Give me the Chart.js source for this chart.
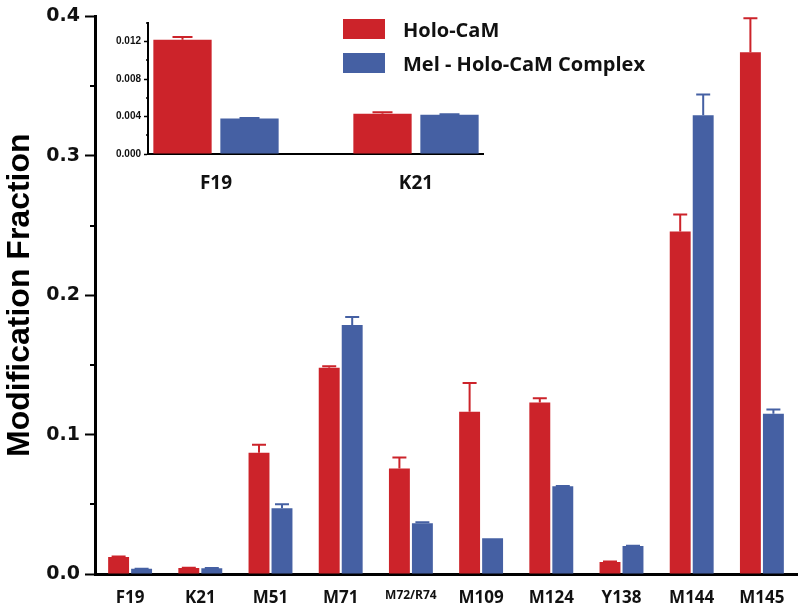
<!DOCTYPE html>
<html lang="en">
<head>
    <meta charset="UTF-8">
    <title>Modification Fraction</title>
    <script src="https://cdn.jsdelivr.net/npm/chart.js@4.4.0/dist/chart.umd.min.js"></script>
    <style>
        html, body { margin: 0; padding: 0; background: #fff; }
        #wrap { position: relative; width: 800px; height: 611px; }
        #mainChart { position: absolute; left: 0; top: 0; }
        #insetChart { position: absolute; left: 100px; top: 10px; }
        .legend { position: absolute; left: 343px; top: 19px; font: bold 20px "Open Sans", sans-serif; color: #111; }
        .legend-row { display: flex; align-items: center; height: 20px; margin-bottom: 14px; }
        .legend-box { width: 42px; height: 20px; margin-right: 18px; }
    </style>
</head>
<body>
<div id="wrap">
    <canvas id="mainChart" width="800" height="611"></canvas>
    <canvas id="insetChart" width="400" height="185"></canvas>
    <div class="legend" id="legend"></div>
</div>
<script>
    // data
    const residues = ['F19', 'K21', 'M51', 'M71', 'M72/R74', 'M109', 'M124', 'Y138', 'M144', 'M145'];
    const holoValues = [0.0122, 0.0043, 0.087, 0.148, 0.0757, 0.1164, 0.123, 0.0086, 0.2457, 0.3743];
    const holoErrors = [0.0003, 0.00015, 0.0058, 0.001, 0.0079, 0.0206, 0.003, 0.0004, 0.0122, 0.0243];
    const complexValues = [0.0038, 0.0042, 0.0471, 0.1786, 0.0364, 0.0257, 0.0629, 0.02, 0.329, 0.115];
    const complexErrors = [0.00005, 0.00005, 0.003, 0.0057, 0.0007, 0, 0.0003, 0.0003, 0.015, 0.003];
    const seriesNames = ['Holo-CaM', 'Mel - Holo-CaM Complex'];
    const seriesColors = ['#cc232a', '#4560a3'];
    const mainTicks = [0, 0.1, 0.2, 0.3, 0.4];
    const insetResidues = ['F19', 'K21'];
    const insetTicks = [0, 0.004, 0.008, 0.012];

    // upper error bars drawn from each bar's own value
    const errorBars = {
        id: 'errorBars',
        afterDatasetsDraw(chart) {
            const ctx = chart.ctx;
            const yScale = chart.scales.y;
            chart.data.datasets.forEach((ds, i) => {
                const meta = chart.getDatasetMeta(i);
                meta.data.forEach((bar, j) => {
                    const err = ds.errors[j];
                    if (!err) return;
                    const v = meta.controller.getParsed(j).y;
                    const yTop = yScale.getPixelForValue(v + err);
                    const half = ds.capWidth / 2;
                    ctx.save();
                    ctx.strokeStyle = ds.backgroundColor;
                    ctx.lineWidth = 2;
                    ctx.beginPath();
                    ctx.moveTo(bar.x, bar.y);
                    ctx.lineTo(bar.x, yTop);
                    ctx.moveTo(bar.x - half, yTop);
                    ctx.lineTo(bar.x + half, yTop);
                    ctx.stroke();
                    ctx.restore();
                });
            });
        }
    };

    // short ticks between the labelled ones
    const minorTicks = {
        id: 'minorTicks',
        afterDraw(chart, args, opts) {
            const s = chart.scales.y;
            const ctx = chart.ctx;
            ctx.save();
            ctx.strokeStyle = '#000';
            ctx.lineWidth = opts.width;
            for (let v = opts.step; v <= s.max + 1e-9; v += opts.step * 2) {
                const y = Math.round(s.getPixelForValue(v));
                ctx.beginPath();
                ctx.moveTo(s.right - opts.length, y);
                ctx.lineTo(s.right, y);
                ctx.stroke();
            }
            ctx.restore();
        }
    };

    new Chart(document.getElementById('mainChart'), {
        type: 'bar',
        data: {
            labels: residues,
            datasets: [
                { label: seriesNames[0], data: holoValues, errors: holoErrors, backgroundColor: seriesColors[0], capWidth: 14 },
                { label: seriesNames[1], data: complexValues, errors: complexErrors, backgroundColor: seriesColors[1], capWidth: 14 }
            ]
        },
        options: {
            responsive: false,
            animation: false,
            categoryPercentage: 0.655,
            barPercentage: 0.91,
            layout: { padding: { top: 14, right: 3, left: 0, bottom: 0 } },
            plugins: {
                legend: { display: false },
                tooltip: { enabled: false },
                minorTicks: { step: 0.05, length: 5, width: 2 }
            },
            scales: {
                x: {
                    grid: { display: false, drawTicks: false },
                    border: { display: true, color: '#000', width: 3 },
                    ticks: {
                        color: '#111',
                        padding: 14,
                        maxRotation: 0,
                        autoSkip: false,
                        font: (c) => ({ family: 'Open Sans', weight: 'bold', size: residues[c.index] === 'M72/R74' ? 12 : 17 })
                    },
                    afterFit: (s) => { s.height = 37; }
                },
                y: {
                    min: 0,
                    max: 0.4,
                    afterBuildTicks: (s) => { s.ticks = mainTicks.map(v => ({ value: v })); },
                    grid: { drawOnChartArea: false, drawTicks: true, tickLength: 10, tickWidth: 2, tickColor: '#000' },
                    border: { display: true, color: '#000', width: 3 },
                    ticks: {
                        color: '#111',
                        padding: 5,
                        font: { family: 'DejaVu Sans', weight: 'bold', size: 19 },
                        callback: (v) => v.toFixed(1)
                    },
                    title: {
                        display: true,
                        text: 'Modification Fraction',
                        color: '#000',
                        font: { family: 'Liberation Sans', weight: 'bold', size: 32 },
                        padding: { top: 1, bottom: 0 }
                    },
                    afterFit: (s) => { s.width = 95; }
                }
            }
        },
        plugins: [errorBars, minorTicks]
    });

    new Chart(document.getElementById('insetChart'), {
        type: 'bar',
        data: {
            datasets: [
                { label: seriesNames[0], data: insetResidues.map((r, i) => ({ x: i + 1, y: holoValues[i] })), errors: holoErrors, backgroundColor: seriesColors[0], capWidth: 20 },
                { label: seriesNames[1], data: insetResidues.map((r, i) => ({ x: i + 1, y: complexValues[i] })), errors: complexErrors, backgroundColor: seriesColors[1], capWidth: 20 }
            ]
        },
        options: {
            responsive: false,
            animation: false,
            categoryPercentage: 0.67,
            barPercentage: 0.87,
            layout: { padding: { top: 13, right: 17, left: 0, bottom: 0 } },
            plugins: {
                legend: { display: false },
                tooltip: { enabled: false },
                minorTicks: { step: 0.002, length: 2, width: 1.5 }
            },
            scales: {
                x: {
                    type: 'linear',
                    offset: false,
                    min: 0.66,
                    max: 2.335,
                    afterBuildTicks: (s) => { s.ticks = insetResidues.map((r, i) => ({ value: i + 1 })); },
                    grid: { display: false, drawTicks: false },
                    border: { display: true, color: '#000', width: 2 },
                    ticks: {
                        color: '#111',
                        padding: 18,
                        font: { family: 'Open Sans', weight: 'bold', size: 19 },
                        callback: (v) => insetResidues[v - 1]
                    },
                    afterFit: (s) => { s.height = 41; }
                },
                y: {
                    min: 0,
                    max: 0.014,
                    afterBuildTicks: (s) => { s.ticks = insetTicks.map(v => ({ value: v })); },
                    grid: { drawOnChartArea: false, drawTicks: true, tickLength: 4, tickWidth: 1.5, tickColor: '#000' },
                    border: { display: true, color: '#000', width: 2 },
                    ticks: {
                        color: '#111',
                        padding: 3,
                        font: { family: 'Liberation Sans', weight: 'bold', size: 10 },
                        callback: (v) => v.toFixed(3)
                    },
                    afterFit: (s) => { s.width = 48; }
                }
            }
        },
        plugins: [errorBars, minorTicks]
    });

    // legend as html, built from the series arrays
    const legend = document.getElementById('legend');
    seriesNames.forEach((name, i) => {
        const row = document.createElement('div');
        row.className = 'legend-row';
        const box = document.createElement('span');
        box.className = 'legend-box';
        box.style.background = seriesColors[i];
        const label = document.createElement('span');
        label.textContent = name;
        row.appendChild(box);
        row.appendChild(label);
        legend.appendChild(row);
    });
</script>
</body>
</html>
